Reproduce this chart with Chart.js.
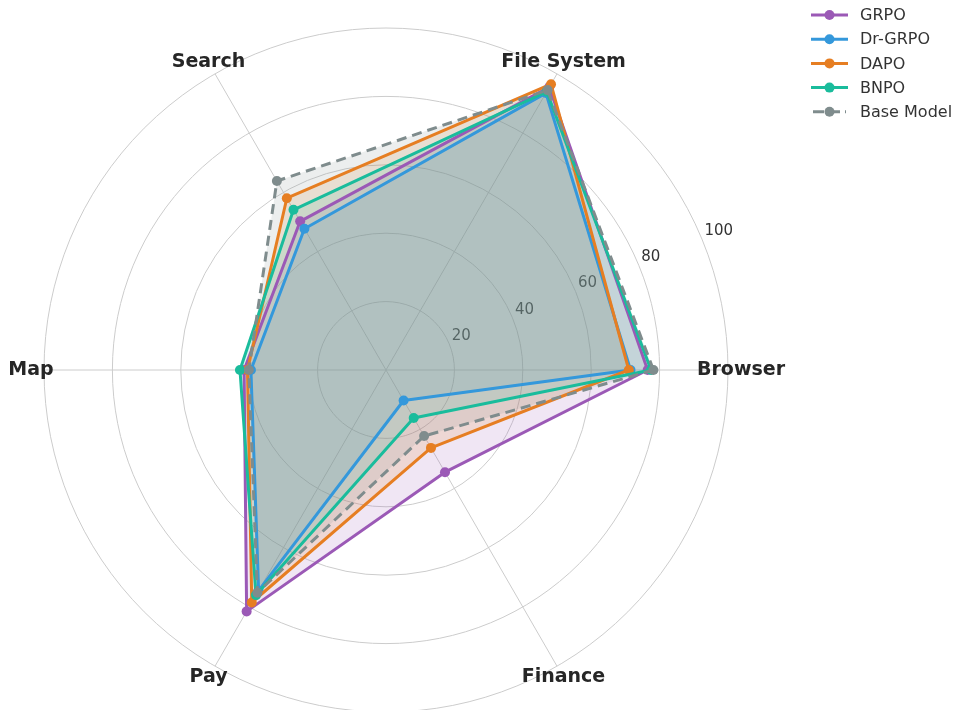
<!DOCTYPE html>
<html>
<head>
<meta charset="utf-8">
<script src="https://cdn.jsdelivr.net/npm/chart.js@4.4.1/dist/chart.umd.min.js"></script>
<style>
  html, body { margin: 0; padding: 0; background: #fff; overflow: hidden; }
  #wrap { position: relative; width: 957px; height: 712px; }
</style>
</head>
<body>
<div id="wrap"><canvas id="radar"></canvas></div>
<script>
// axes, clockwise from the right (same placement as the original)
const categories = ['Browser', 'Finance', 'Pay', 'Map', 'Search', 'File System'];

const grpo      = [76.5, 34.5, 81.5, 41.5, 50.2, 95.5];
const drGrpo    = [71.5, 10.3, 74.5, 39.5, 47.7, 93.5];
const dapo      = [71.0, 26.3, 78.5, 40.5, 58.0, 96.5];
const bnpo      = [77.5, 16.2, 76.0, 42.7, 54.1, 94.0];
const baseModel = [78.2, 22.3, 75.2, 40.1, 63.8, 94.5];

const seriesNames = ['GRPO', 'Dr-GRPO', 'DAPO', 'BNPO', 'Base Model'];
const tickValues = [20, 40, 60, 80, 100];

const FONT = "'DejaVu Sans', sans-serif";

function hexA(hex, a) {
  const n = parseInt(hex.slice(1), 16);
  return `rgba(${n >> 16},${(n >> 8) & 255},${n & 255},${a})`;
}

const series = [
  { name: seriesNames[0], data: grpo,      color: '#9b59b6' },
  { name: seriesNames[1], data: drGrpo,    color: '#3498db' },
  { name: seriesNames[2], data: dapo,      color: '#e67e22' },
  { name: seriesNames[3], data: bnpo,      color: '#1abc9c' },
  { name: seriesNames[4], data: baseModel, color: '#7f8c8d', dash: [10, 6] },
];

// tick labels (under the fills), axis names and legend
const polarText = {
  id: 'polarText',
  beforeDraw(chart) {
    const r = chart.scales.r, ctx = chart.ctx;
    const ang = 22.5 * Math.PI / 180;
    ctx.save();
    ctx.font = '15px ' + FONT;
    ctx.fillStyle = '#333';
    ctx.textAlign = 'left';
    ctx.textBaseline = 'middle';
    tickValues.forEach(v => {
      const d = r.getDistanceFromCenterForValue(v);
      ctx.fillText(String(v), r.xCenter + d * Math.cos(ang) + 2.5, r.yCenter - d * Math.sin(ang) - 8);
    });
    ctx.restore();
  },
  afterDatasetsDraw(chart) {
    const r = chart.scales.r, ctx = chart.ctx;
    ctx.save();
    ctx.font = 'bold 19px ' + FONT;
    ctx.fillStyle = '#262626';
    ctx.textAlign = 'center';
    ctx.textBaseline = 'middle';
    categories.forEach((c, i) => {
      const p = r.getPointPosition(i, r.drawingArea + 13);
      ctx.fillText(c, p.x, p.y);
    });

    // legend
    ctx.font = '16px ' + FONT;
    ctx.textAlign = 'left';
    series.forEach((s, i) => {
      const y = 15 + i * 24.2;
      ctx.strokeStyle = s.color;
      ctx.lineWidth = 3;
      ctx.setLineDash(s.dash ? [11, 5] : []);
      ctx.beginPath();
      ctx.moveTo(s.dash ? 813 : 811, y);
      ctx.lineTo(s.dash ? 846 : 848, y);
      ctx.stroke();
      ctx.setLineDash([]);
      ctx.fillStyle = s.color;
      ctx.beginPath();
      ctx.arc(829.5, y, 5, 0, Math.PI * 2);
      ctx.fill();
      ctx.fillStyle = '#333';
      ctx.fillText(s.name, 860, y + 1);
    });
    ctx.restore();
  }
};

new Chart(document.getElementById('radar'), {
  type: 'radar',
  data: {
    labels: categories,
    datasets: series.map((s, i) => ({
      label: s.name,
      data: s.data,
      order: series.length - i,
      borderColor: s.color,
      backgroundColor: hexA(s.color, 0.15),
      borderWidth: 3,
      borderDash: s.dash || [],
      borderJoinStyle: 'round',
      fill: true,
      pointRadius: 5,
      pointHoverRadius: 5,
      pointBackgroundColor: s.color,
      pointBorderColor: s.color,
      pointBorderWidth: 0,
    }))
  },
  options: {
    responsive: true,
    maintainAspectRatio: false,
    animation: false,
    layout: { padding: { left: 44, right: 229, top: 28, bottom: 0 } },
    plugins: {
      legend: { display: false },
      tooltip: { enabled: false },
      filler: { drawTime: 'beforeDatasetsDraw' }
    },
    scales: {
      r: {
        min: 0,
        max: 100,
        startAngle: 90,
        ticks: { display: false, stepSize: 20 },
        pointLabels: { display: false },
        grid: { color: '#cccccc', lineWidth: 1, circular: true },
        angleLines: { color: '#cccccc', lineWidth: 1 },
      }
    }
  },
  plugins: [polarText]
});
</script>
</body>
</html>
